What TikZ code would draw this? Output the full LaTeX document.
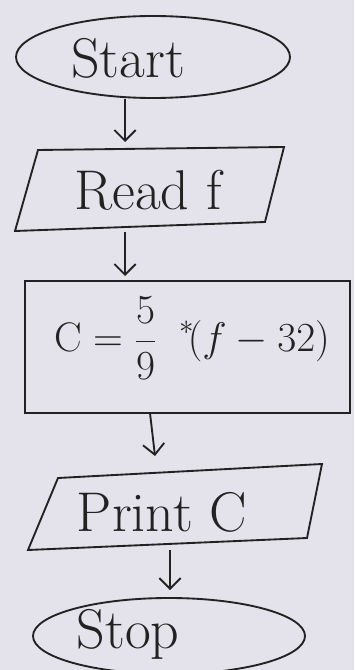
\RequirePackage{fix-cm}
\documentclass[tikz,border=0pt]{standalone}
\usetikzlibrary{arrows.meta,shapes.geometric}
\definecolor{paper}{HTML}{E4E2EA}
\definecolor{ink}{HTML}{222222}
\begin{document}
\begin{tikzpicture}[x=0.75pt,y=-0.75pt,
  shapeline/.style={draw=ink,line width=1.4pt},
  flowarrow/.style={draw=ink,line width=1.4pt,-{Straight Barb[length=8pt,width=16pt]}},
  lbl/.style={text=ink,font=\fontsize{42}{46}\selectfont,inner sep=0pt}]
\fill[paper] (0,0) rectangle (354,670);
\useasboundingbox (0,0) rectangle (354,670);
% Start
\node[shapeline,ellipse,minimum width=274*0.75pt,minimum height=82*0.75pt] (start) at (153,57) {};
\node[lbl] (startlbl) at (128,58) {Start};
% Read f
\coordinate (r1) at (38,150);
\coordinate (r2) at (284,147);
\coordinate (r3) at (265,222);
\coordinate (r4) at (15,231);
\draw[shapeline] (r1) -- (r2) -- (r3) -- (r4) -- cycle;
\node[lbl] (read) at (148,190) {Read f};
% process
\node[shapeline,rectangle,minimum width=325*0.75pt,minimum height=132*0.75pt,inner sep=0pt] (proc) at (187.5,347) {};
\node[lbl,font=\fontsize{31}{34}\selectfont] (formula) at (192,338) {$\mathrm{C}=\displaystyle\frac{5}{9}\;\;{}^{*}\!(f-32)$};
% Print C
\coordinate (p1) at (58,478);
\coordinate (p2) at (322,464);
\coordinate (p3) at (307,538);
\coordinate (p4) at (28,550);
\draw[shapeline] (p1) -- (p2) -- (p3) -- (p4) -- cycle;
\node[lbl] (print) at (162,512) {Print C};
% Stop
\node[shapeline,ellipse,minimum width=272*0.75pt,minimum height=76*0.75pt] (stop) at (169,636) {};
\node[lbl] (stoplbl) at (128,634) {Stop};
% arrows
\coordinate (a1s) at (125,99);
\coordinate (a1e) at (125,142);
\coordinate (a2s) at (125,232);
\coordinate (a2e) at (125,276);
\coordinate (a3s) at (150,413);
\coordinate (a3e) at (155,456);
\coordinate (a4s) at (170,550);
\coordinate (a4e) at (170,590);
\draw[flowarrow] (a1s) -- (a1e);
\draw[flowarrow] (a2s) -- (a2e);
\draw[flowarrow] (a3s) -- (a3e);
\draw[flowarrow] (a4s) -- (a4e);
\end{tikzpicture}
\end{document}
